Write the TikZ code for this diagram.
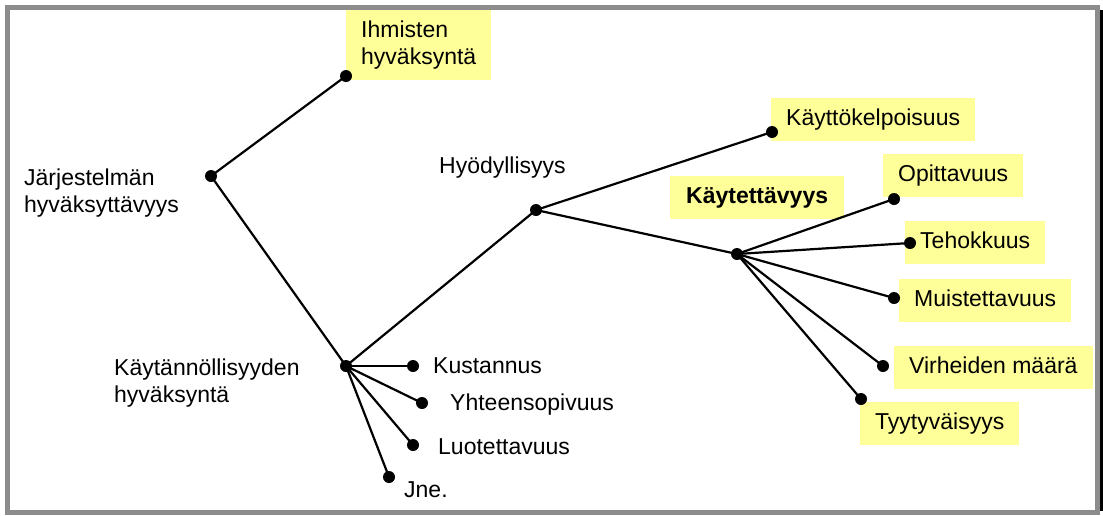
\documentclass[tikz,border=0pt]{standalone}
\usepackage{fontspec}
\setmainfont{Liberation Sans}
\usepackage{xcolor}
\usepackage{tikz}
\usetikzlibrary{positioning}
\definecolor{hiyellow}{RGB}{255,255,153}
\tikzstyle{dot}=[circle, fill=black, inner sep=0pt, minimum size=12pt]
\tikzstyle{branch}=[draw=black, line width=2.2pt]
\tikzstyle{label}=[font=\fontsize{23}{27}\selectfont, inner sep=0pt, anchor=base west, align=left]
\tikzstyle{leaf}=[font=\fontsize{23}{27}\selectfont, inner sep=0pt, text height=17pt, text depth=5pt, anchor=west]
\tikzstyle{marked}=[leaf, fill=hiyellow, inner xsep=15pt, inner ysep=10.5pt]

\begin{document}
\begin{tikzpicture}[x=1pt, y=-1pt]
        \useasboundingbox (0,0) rectangle (1103,515);
        \fill[white] (0,0) rectangle (1103,515);
        \fill[black] (1099,10) rectangle (1103,511);
        \draw[gray!90, line width=5pt] (7.5,7.5) rectangle (1097,512.5);

        \node (Ihmisten) [marked, text height=, text depth=, align=left, minimum height=70pt, inner ysep=0pt] at (346,45)
        {Ihmisten\\hyväksyntä};
        \node (Kelpo) [marked] at (771,119) {Käyttökelpoisuus};
        \node (Kaytettavyys) [marked, font=\fontsize{23}{27}\selectfont\bfseries, inner xsep=16pt] at (670,197.5) {Käytettävyys};
        \node (Opittavuus) [marked] at (883,175.5) {Opittavuus};
        \node (Tehokkuus) [marked] at (905,242) {Tehokkuus};
        \node (Muistettavuus) [marked] at (899,300.5) {Muistettavuus};
        \node (Virheet) [marked] at (894,367.5) {Virheiden määrä};
        \node (Tyytyvaisyys) [marked] at (860,423.5) {Tyytyväisyys};

        \node (Hyvaksyttavyys) [label] at (24,212) {Järjestelmän\\hyväksyttävyys};
        \node (Kaytannollisyys) [label] at (114,402) {Käytännöllisyyden\\hyväksyntä};
        \node (Hyodyllisyys) [leaf] at (439,167) {Hyödyllisyys};
        \node (Kustannus) [leaf] at (433,367) {Kustannus};
        \node (Yhteensopivuus) [leaf] at (450,404) {Yhteensopivuus};
        \node (Luotettavuus) [leaf] at (438,448) {Luotettavuus};
        \node (Jne) [leaf] at (404,491) {Jne.};

        \node (root) [dot] at (211,176) {};
        \node (ihm) [dot] at (346,76) {};
        \node (kay) [dot] at (346,366) {};
        \node (hyo) [dot] at (536,210) {};
        \node (kel) [dot] at (772,132) {};
        \node (ktv) [dot] at (737,254) {};
        \node (opi) [dot] at (894,199) {};
        \node (teh) [dot] at (910,243) {};
        \node (mui) [dot] at (894,298) {};
        \node (vir) [dot] at (883,366) {};
        \node (tyy) [dot] at (861,399) {};
        \node (kus) [dot] at (413,366) {};
        \node (yht) [dot] at (422,403) {};
        \node (luo) [dot] at (413,445) {};
        \node (jne) [dot] at (389,477) {};

        \draw[branch] (root.center) -- (ihm.center);
        \draw[branch] (root.center) -- (kay.center);
        \draw[branch] (kay.center) -- (hyo.center);
        \draw[branch] (hyo.center) -- (kel.center);
        \draw[branch] (hyo.center) -- (ktv.center);
        \foreach \n in {opi,teh,mui,vir,tyy}
          \draw[branch] (ktv.center) -- (\n.center);
        \foreach \n in {kus,yht,luo,jne}
          \draw[branch] (kay.center) -- (\n.center);
\end{tikzpicture}
\end{document}
